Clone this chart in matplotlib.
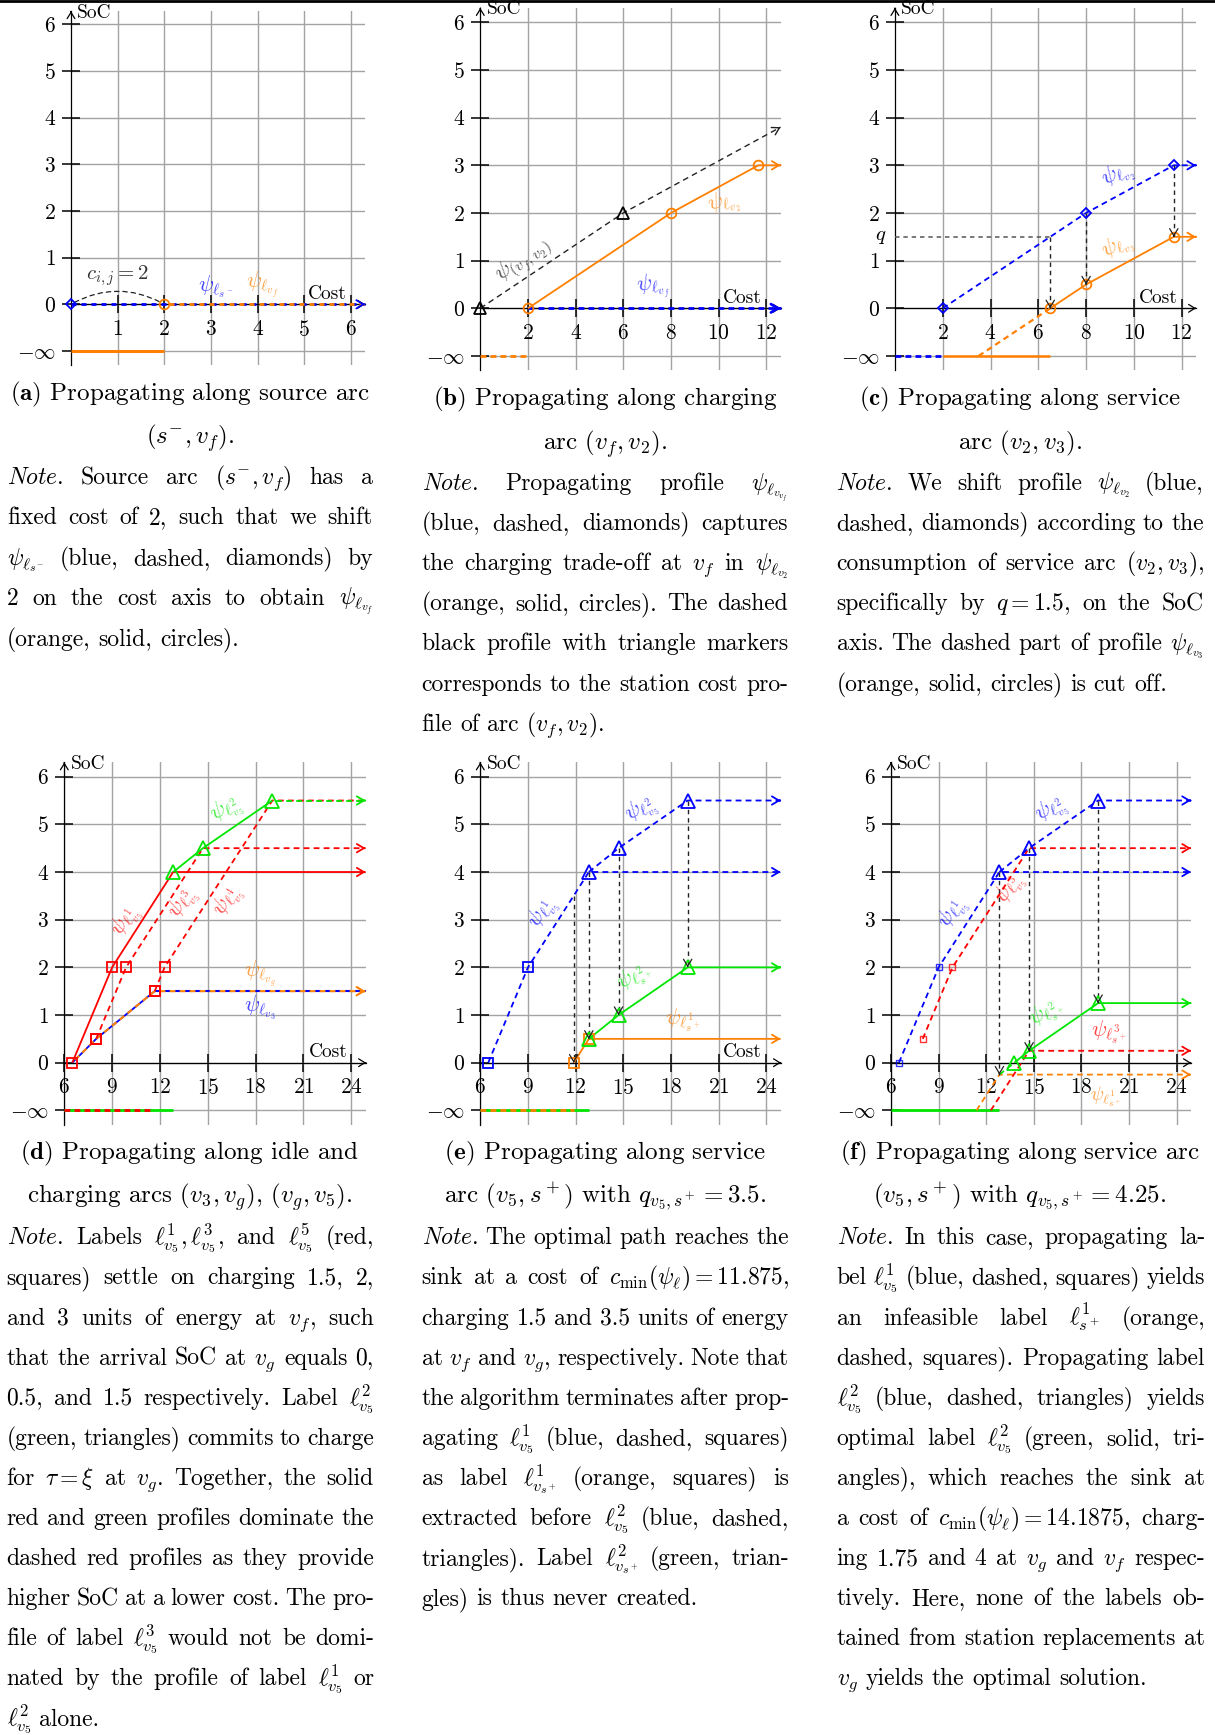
import matplotlib
matplotlib.use('Agg')
import matplotlib.pyplot as plt
from matplotlib.transforms import IdentityTransform
from matplotlib.lines import Line2D

plt.rcParams.update({
    'mathtext.fontset': 'cm',
    'font.family': 'cmr10',
    'axes.unicode_minus': False,
    'lines.scale_dashes': False,
    'axes.formatter.use_mathtext': True,
})

W, H = 1215, 1735
fig = plt.figure(figsize=(W / 100, H / 100), dpi=100)

BLUE, ORANGE, GREEN, RED, BLACK = '#0000ff', '#ff8000', '#00e600', '#ff0000', '#000000'

# ---------------- tick data ----------------
Y_TICKS = [-1, 0, 1, 2, 3, 4, 5, 6]
Y_TICKLABELS = [r'$-\infty$', '$0$', '$1$', '$2$', '$3$', '$4$', '$5$', '$6$']
A_XTICKS = [1, 2, 3, 4, 5, 6]
BC_XTICKS = [2, 4, 6, 8, 10, 12]
DEF_XTICKS = [6, 9, 12, 15, 18, 21, 24]

# ---------------- panel (a) ----------------
A_SRC_X, A_SRC_Y = [0, 6.3], [0, 0]
A_VF_X, A_VF_Y = [2, 6.3], [0, 0]
A_VF_NEG_X = [0, 2]
A_ARC_X = [0, 2]

# ---------------- panel (b) ----------------
B_STATION_X, B_STATION_Y = [0, 6, 12.6], [0, 2, 3.8]
B_VF_X, B_VF_Y = [2, 12.6], [0, 0]
B_V2_X, B_V2_Y = [2, 8, 11.67, 12.6], [0, 2, 3, 3]
B_NEG_X = [0, 2]

# ---------------- panel (c) ----------------
C_V2_X, C_V2_Y = [2, 8, 11.67, 12.6], [0, 2, 3, 3]
C_V2_NEG_X = [0, 2]
C_V3_X, C_V3_Y = [6.5, 8, 11.67, 12.6], [0, 0.5, 1.5, 1.5]
C_V3_CUT_X, C_V3_CUT_Y = [3.5, 6.5], [-1, 0]
C_V3_NEG_X = [2, 6.5]
C_Q = 1.5
C_DROP_X, C_DROP_TOP = [6.5, 8, 11.67], [1.5, 2, 3]

# ---------------- panel (d) ----------------
D_L1_X, D_L1_Y = [6.5, 9, 12.83, 24.9], [0, 2, 4, 4]
D_L3_X, D_L3_Y = [8, 9.875, 14.7, 24.9], [0.5, 2, 4.5, 4.5]
D_L5_X, D_L5_Y = [11.67, 12.29, 19.05, 24.9], [1.5, 2, 5.5, 5.5]
D_L2_X, D_L2_Y = [12.83, 14.7, 19.05, 24.9], [4, 4.5, 5.5, 5.5]
D_V3_X, D_V3_Y = [6.5, 8, 11.67, 24.9], [0, 0.5, 1.5, 1.5]
D_GREEN_NEG_X = [6, 12.83]
D_RED_NEG_X = [6, 11.5]

# ---------------- panel (e) ----------------
E_L1_X, E_L1_Y = [6.5, 9, 12.83, 24.9], [0, 2, 4, 4]
E_L2_X, E_L2_Y = [12.83, 14.7, 19.05, 24.9], [4, 4.5, 5.5, 5.5]
E_S1_X, E_S1_Y = [11.875, 12.83, 24.9], [0, 0.5, 0.5]
E_S2_X, E_S2_Y = [12.83, 14.7, 19.05, 24.9], [0.5, 1, 2, 2]
E_Q = 3.5
E_DROP_X, E_DROP_TOP = [11.875, 12.83, 14.7, 19.05], [3.5, 4, 4.5, 5.5]
E_GREEN_NEG_X = [6, 12.83]
E_ORANGE_NEG_X = [6, 11.875]

# ---------------- panel (f) ----------------
F_L1_X, F_L1_Y = [6.5, 9, 12.83, 24.9], [0, 2, 4, 4]
F_L2_X, F_L2_Y = [12.83, 14.7, 19.05, 24.9], [4, 4.5, 5.5, 5.5]
F_L3_X, F_L3_Y = [8, 9.875, 14.7, 24.9], [0.5, 2, 4.5, 4.5]
F_S1_X, F_S1_Y = [11.39, 12.83, 24.9], [-1, -0.25, -0.25]
F_S3_X, F_S3_Y = [12.29, 14.7, 24.9], [-1, 0.25, 0.25]
F_S2_X, F_S2_Y = [13.77, 14.7, 19.05, 24.9], [0, 0.25, 1.25, 1.25]
F_S2_CUT_X, F_S2_CUT_Y = [12.83, 13.77], [-0.25, 0]
F_Q = 4.25
F_DROP_X, F_DROP_TOP = [12.83, 14.7, 19.05], [4, 4.5, 5.5]
F_GREEN_NEG_X = [6, 12.83]

# ---------------- captions / notes ----------------
CAP_A = [r"$\mathbf{(a)}$ Propagating along source arc", r"$(s^{-},v_f)$."]
NOTE_A = [r"$\mathit{Note.}$ Source arc $(s^{-},v_f)$ has a",
          r"fixed cost of 2, such that we shift",
          r"$\psi_{\ell_{s^-}}$ (blue, dashed, diamonds) by",
          r"2 on the cost axis to obtain $\psi_{\ell_{v_f}}$",
          r"(orange, solid, circles)."]
CAP_B = [r"$\mathbf{(b)}$ Propagating along charging", r"arc $(v_f,v_2)$."]
NOTE_B = [r"$\mathit{Note.}$ Propagating profile $\psi_{\ell_{v_{v_f}}}$",
          r"(blue, dashed, diamonds) captures",
          r"the charging trade-off at $v_f$ in $\psi_{\ell_{v_2}}$",
          r"(orange, solid, circles). The dashed",
          r"black profile with triangle markers",
          r"corresponds to the station cost pro-",
          r"file of arc $(v_f,v_2)$."]
CAP_C = [r"$\mathbf{(c)}$ Propagating along service", r"arc $(v_2,v_3)$."]
NOTE_C = [r"$\mathit{Note.}$ We shift profile $\psi_{\ell_{v_2}}$ (blue,",
          r"dashed, diamonds) according to the",
          r"consumption of service arc $(v_2,v_3)$,",
          r"specifically by $q=1.5$, on the SoC",
          r"axis. The dashed part of profile $\psi_{\ell_{v_3}}$",
          r"(orange, solid, circles) is cut off."]
CAP_D = [r"$\mathbf{(d)}$ Propagating along idle and", r"charging arcs $(v_3,v_g)$, $(v_g,v_5)$."]
NOTE_D = [r"$\mathit{Note.}$ Labels $\ell^1_{v_5},\ell^3_{v_5}$, and $\ell^5_{v_5}$ (red,",
          r"squares) settle on charging 1.5, 2,",
          r"and 3 units of energy at $v_f$, such",
          r"that the arrival SoC at $v_g$ equals 0,",
          r"0.5, and 1.5 respectively. Label $\ell^2_{v_5}$",
          r"(green, triangles) commits to charge",
          r"for $\tau=\xi$ at $v_g$. Together, the solid",
          r"red and green profiles dominate the",
          r"dashed red profiles as they provide",
          r"higher SoC at a lower cost. The pro-",
          r"file of label $\ell^3_{v_5}$ would not be domi-",
          r"nated by the profile of label $\ell^1_{v_5}$ or",
          r"$\ell^2_{v_5}$ alone."]
CAP_E = [r"$\mathbf{(e)}$ Propagating along service", r"arc $(v_5,s^+)$ with $q_{v_5,s^+}=3.5$."]
NOTE_E = [r"$\mathit{Note.}$ The optimal path reaches the",
          r"sink at a cost of $c_{\min}(\psi_\ell)=11.875$,",
          r"charging 1.5 and 3.5 units of energy",
          r"at $v_f$ and $v_g$, respectively. Note that",
          r"the algorithm terminates after prop-",
          r"agating $\ell^1_{v_5}$ (blue, dashed, squares)",
          r"as label $\ell^1_{v_{s^+}}$ (orange, squares) is",
          r"extracted before $\ell^2_{v_5}$ (blue, dashed,",
          r"triangles). Label $\ell^2_{v_{s^+}}$ (green, trian-",
          r"gles) is thus never created."]
CAP_F = [r"$\mathbf{(f)}$ Propagating along service arc", r"$(v_5,s^+)$ with $q_{v_5,s^+}=4.25$."]
NOTE_F = [r"$\mathit{Note.}$ In this case, propagating la-",
          r"bel $\ell^1_{v_5}$ (blue, dashed, squares) yields",
          r"an infeasible label $\ell^1_{s^+}$ (orange,",
          r"dashed, squares). Propagating label",
          r"$\ell^2_{v_5}$ (blue, dashed, triangles) yields",
          r"optimal label $\ell^2_{v_5}$ (green, solid, tri-",
          r"angles), which reaches the sink at",
          r"a cost of $c_{\min}(\psi_\ell)=14.1875$, charg-",
          r"ing 1.75 and 4 at $v_g$ and $v_f$ respec-",
          r"tively. Here, none of the labels ob-",
          r"tained from station replacements at",
          r"$v_g$ yields the optimal solution."]

# ---------------- helpers ----------------
DASH = (4.2, 3.0)
BDASH = (3.2, 2.8)
LW = 1.3


def make_axes(x0px, xunit, y0px, yunit, xlim, xticks, ylim=(-1.3, 6.3), cost=True):
    width = (xlim[1] - xlim[0]) * xunit
    top = y0px - ylim[1] * yunit
    height = (ylim[1] - ylim[0]) * yunit
    ax = fig.add_axes([x0px / W, 1 - (top + height) / H, width / W, height / H])
    ax.set_xlim(xlim)
    ax.set_ylim(ylim)
    ax.patch.set_visible(False)
    ax.spines['top'].set_visible(False)
    ax.spines['right'].set_visible(False)
    ax.spines['bottom'].set_position(('data', 0))
    for s in ('left', 'bottom'):
        ax.spines[s].set_linewidth(0.9)
    ax.set_yticks(Y_TICKS, Y_TICKLABELS)
    ax.set_xticks(xticks, ['$%d$' % v for v in xticks])
    ax.tick_params(direction='inout', length=13, width=1.1, pad=4.5, labelsize=15.5)
    ax.grid(True, color='#a3a3a3', lw=1.0)
    ax.set_axisbelow(True)
    ap = dict(arrowstyle='->,head_length=0.45,head_width=0.28', lw=0.9, color='k',
              shrinkA=0, shrinkB=0)
    ex = (xlim[1] - xlim[0]) * 0.002
    ax.annotate('', xy=(xlim[1], 0), xytext=(xlim[1] - ex, 0), arrowprops=ap, annotation_clip=False)
    ax.annotate('', xy=(xlim[0], ylim[1]), xytext=(xlim[0], ylim[1] - 0.01), arrowprops=ap,
                annotation_clip=False)
    ax.annotate('SoC', xy=(xlim[0], ylim[1]), xytext=(4.5, -1), textcoords='offset points',
                ha='left', va='center', fontsize=14, annotation_clip=False)
    if cost:
        ax.annotate('Cost', xy=(xlim[1], 0), xytext=(-13.5, 3.8), textcoords='offset points',
                    ha='right', va='baseline', fontsize=14, annotation_clip=False)
    return ax


def head(ax, x0, y0, x1, y1, color, lw=LW):
    f = 0.01
    ax.annotate('', xy=(x1, y1), xytext=(x1 - f * (x1 - x0), y1 - f * (y1 - y0)),
                arrowprops=dict(arrowstyle='->,head_length=0.5,head_width=0.3', lw=lw,
                                color=color, shrinkA=0, shrinkB=0),
                annotation_clip=False, zorder=6)


def line(ax, xs, ys, color, dashed=False, lw=LW, z=3, off=0.0, dash=DASH):
    kw = dict(color=color, lw=lw, zorder=z, solid_capstyle='butt', dash_capstyle='butt')
    if dashed:
        kw['linestyle'] = (off, dash)
    ax.plot(xs, ys, clip_on=False, **kw)


def marks(ax, xs, ys, color, m, ms, z=5, mew=1.3, alpha=1.0):
    ax.plot(xs, ys, ls='none', marker=m, ms=ms, mfc='none', mec=color, mew=mew,
            zorder=z, clip_on=False, alpha=alpha)


def profile(ax, xs, ys, color, dashed=False, nmark=0, marker=None, ms=7, arrow=True,
            lw=LW, off=0.0, z=3):
    line(ax, xs, ys, color, dashed, lw, z, off)
    if nmark:
        marks(ax, xs[:nmark], ys[:nmark], color, marker, ms)
    if arrow:
        head(ax, xs[-2], ys[-2], xs[-1], ys[-1], color, lw)


def neg(ax, xs, color, dashed=False, lw=2.0, off=0.0):
    line(ax, xs, [-1] * len(xs), color, dashed, lw, 3, off)


def drops(ax, xs, tops, q):
    for x, t in zip(xs, tops):
        ax.plot([x, x], [t, t - q], color='#222222', lw=1.0, linestyle=(0, BDASH), zorder=4)
        head(ax, x, t, x, t - q, '#222222', lw=0.9)


def lab(ax, x, y, s, color, rot=0, fs=16, alpha=0.72):
    ax.text(x, y, s, color=color, rotation=rot, fontsize=fs, ha='center', va='center',
            alpha=alpha, rotation_mode='anchor', zorder=7)


# ---------------- panel (a) ----------------
ax = make_axes(71, 46.67, 304.3, 46.67, (0, 6.3), A_XTICKS, ylim=(-1.3, 6.28))
line(ax, A_SRC_X, A_SRC_Y, BLUE, True, 2.0, 3, 0, (3.6, 3.6))
line(ax, A_VF_X, A_VF_Y, ORANGE, True, 2.0, 4, 3.6, (3.6, 3.6))
head(ax, A_SRC_X[0], 0, A_SRC_X[-1], 0, BLUE, 1.3)
neg(ax, A_VF_NEG_X, ORANGE, lw=2.2)
marks(ax, [A_SRC_X[0]], [A_SRC_Y[0]], BLUE, 'D', 5.5)
marks(ax, [A_VF_X[0]], [A_VF_Y[0]], ORANGE, 'o', 7)
ax.annotate('', xy=(A_ARC_X[1], 0), xytext=(A_ARC_X[0], 0),
            arrowprops=dict(arrowstyle='-', linestyle=(0, BDASH), lw=0.9, color='#222222',
                            connectionstyle='arc3,rad=-0.28', shrinkA=3, shrinkB=3))
lab(ax, 1.0, 0.62, r'$c_{i,j}=2$', '#333333', fs=15, alpha=1)
lab(ax, 3.1, 0.38, r'$\psi_{\ell_{s^-}}$', BLUE)
lab(ax, 4.1, 0.42, r'$\psi_{\ell_{v_f}}$', ORANGE)

# ---------------- panel (b) ----------------
ax = make_axes(480.3, 23.83, 308.3, 47.67, (0, 12.6), BC_XTICKS)
profile(ax, B_STATION_X, B_STATION_Y, '#222222', dashed=True, lw=1.0)
marks(ax, B_STATION_X[:2], B_STATION_Y[:2], BLACK, '^', 9)
profile(ax, B_VF_X, B_VF_Y, BLUE, dashed=True, lw=2.0)
profile(ax, B_V2_X, B_V2_Y, ORANGE, nmark=3, marker='o', ms=7)
neg(ax, B_NEG_X, ORANGE, dashed=True, lw=2.0)
lab(ax, 1.8, 1.0, r'$\psi_{(v_f,v_2)}$', '#333333', rot=34, alpha=0.85)
lab(ax, 10.2, 2.2, r'$\psi_{\ell_{v_2}}$', ORANGE, rot=15)
lab(ax, 7.25, 0.45, r'$\psi_{\ell_{v_f}}$', BLUE, rot=8)

# ---------------- panel (c) ----------------
ax = make_axes(894.9, 23.9, 308.3, 47.67, (0, 12.6), BC_XTICKS)
profile(ax, C_V2_X, C_V2_Y, BLUE, dashed=True, nmark=3, marker='D', ms=5.5)
neg(ax, C_V2_NEG_X, BLUE, dashed=True, lw=2.0)
profile(ax, C_V3_X, C_V3_Y, ORANGE, nmark=3, marker='o', ms=7)
line(ax, C_V3_CUT_X, C_V3_CUT_Y, ORANGE, True, 1.6)
neg(ax, C_V3_NEG_X, ORANGE, lw=1.8)
ax.plot([0, C_DROP_X[0]], [C_Q, C_Q], color='#555555', lw=1.1, linestyle=(0, BDASH), zorder=4)
drops(ax, C_DROP_X, C_DROP_TOP, C_Q)
ax.annotate('$q$', xy=(0, C_Q), xytext=(-6, 0), textcoords='offset points', ha='right',
            va='center', fontsize=15)
lab(ax, 9.33, 2.8, r'$\psi_{\ell_{v_2}}$', BLUE, rot=27)
lab(ax, 9.33, 1.28, r'$\psi_{\ell_{v_3}}$', ORANGE, rot=27)

# ---------------- panel (d) ----------------
ax = make_axes(64.3, 15.94, 1062.7, 47.67, (6, 24.93), DEF_XTICKS)
neg(ax, D_GREEN_NEG_X, GREEN, lw=2.0)
neg(ax, D_RED_NEG_X, RED, dashed=True, lw=2.0)
line(ax, D_V3_X[:3], D_V3_Y[:3], BLUE, False, 1.3)
line(ax, D_V3_X[2:], D_V3_Y[2:], BLUE, True, 1.5)
profile(ax, D_V3_X, D_V3_Y, ORANGE, dashed=True, lw=1.5, off=4.2)
profile(ax, D_L1_X, D_L1_Y, RED)
profile(ax, D_L3_X, D_L3_Y, RED, dashed=True)
line(ax, D_L5_X, D_L5_Y, RED, True)
line(ax, D_L2_X[:3], D_L2_Y[:3], GREEN)
line(ax, D_L2_X[2:], D_L2_Y[2:], GREEN, True, off=4.2)
head(ax, D_L2_X[-2], D_L2_Y[-2], D_L2_X[-1], D_L2_Y[-1], GREEN)
marks(ax, D_L1_X[:2] + D_L3_X[:2] + D_L5_X[:2] + D_V3_X[1:3],
      D_L1_Y[:2] + D_L3_Y[:2] + D_L5_Y[:2] + D_V3_Y[1:3], RED, 's', 7)
marks(ax, D_L2_X[:3], D_L2_Y[:3], GREEN, '^', 9.5)
lab(ax, 9.91, 2.96, r'$\psi_{\ell^1_{v_5}}$', RED, rot=57)
lab(ax, 13.47, 3.34, r'$\psi_{\ell^3_{v_5}}$', RED, rot=57)
lab(ax, 16.29, 3.38, r'$\psi_{\ell^4_{v_5}}$', RED, rot=57)
lab(ax, 16.18, 5.3, r'$\psi_{\ell^2_{v_5}}$', GREEN, rot=30)
lab(ax, 18.27, 1.86, r'$\psi_{\ell_{v_g}}$', ORANGE)
lab(ax, 18.27, 1.14, r'$\psi_{\ell_{v_3}}$', BLUE)

# ---------------- panel (e) ----------------
ax = make_axes(480.3, 15.89, 1062.7, 47.67, (6, 24.92), DEF_XTICKS)
neg(ax, E_GREEN_NEG_X, GREEN, lw=2.0)
neg(ax, E_ORANGE_NEG_X, ORANGE, dashed=True, lw=2.0)
profile(ax, E_L1_X, E_L1_Y, BLUE, dashed=True, nmark=2, marker='s', ms=7)
profile(ax, E_L2_X, E_L2_Y, BLUE, dashed=True, nmark=3, marker='^', ms=10)
profile(ax, E_S1_X, E_S1_Y, ORANGE, nmark=2, marker='s', ms=7)
profile(ax, E_S2_X, E_S2_Y, GREEN, nmark=3, marker='^', ms=10)
drops(ax, E_DROP_X, E_DROP_TOP, E_Q)
lab(ax, 9.96, 3.13, r'$\psi_{\ell^1_{v_5}}$', BLUE, rot=57)
lab(ax, 16.15, 5.3, r'$\psi_{\ell^2_{v_5}}$', BLUE, rot=30)
lab(ax, 15.73, 1.8, r'$\psi_{\ell^2_{s^+}}$', GREEN, rot=30)
lab(ax, 18.77, 0.9, r'$\psi_{\ell^1_{s^+}}$', ORANGE)

# ---------------- panel (f) ----------------
ax = make_axes(891, 15.87, 1062.7, 47.67, (6, 24.9), DEF_XTICKS, cost=False)
neg(ax, F_GREEN_NEG_X, GREEN, lw=2.0)
profile(ax, F_L1_X, F_L1_Y, BLUE, dashed=True)
marks(ax, F_L1_X[:2], F_L1_Y[:2], BLUE, 's', 5, mew=1.0, alpha=0.8)
profile(ax, F_L2_X, F_L2_Y, BLUE, dashed=True, nmark=3, marker='^', ms=10)
profile(ax, F_L3_X, F_L3_Y, RED, dashed=True)
marks(ax, F_L3_X[:2], F_L3_Y[:2], RED, 's', 5, mew=1.0, alpha=0.8)
profile(ax, F_S1_X, F_S1_Y, ORANGE, dashed=True)
profile(ax, F_S3_X, F_S3_Y, RED, dashed=True)
line(ax, F_S2_CUT_X, F_S2_CUT_Y, GREEN, True)
profile(ax, F_S2_X, F_S2_Y, GREEN, nmark=3, marker='^', ms=10)
drops(ax, F_DROP_X, F_DROP_TOP, F_Q)
lab(ax, 9.93, 3.13, r'$\psi_{\ell^1_{v_5}}$', BLUE, rot=57)
lab(ax, 16.1, 5.3, r'$\psi_{\ell^2_{v_5}}$', BLUE, rot=30)
lab(ax, 13.5, 3.62, r'$\psi_{\ell^3_{v_5}}$', RED, rot=57)
lab(ax, 15.8, 1.03, r'$\psi_{\ell^2_{s^+}}$', GREEN, rot=30)
lab(ax, 19.7, 0.65, r'$\psi_{\ell^3_{s^+}}$', RED)
lab(ax, 19.5, -0.72, r'$\psi_{\ell^1_{s^+}}$', ORANGE, fs=14)

# ---------------- text blocks ----------------
FS_NOTE = 17.0
FS_CAP = 18.0
PX = 100 / 72
IDT = IdentityTransform()
renderer = fig.canvas.get_renderer()


def caption(lines, cx, y0, dy):
    for i, s in enumerate(lines):
        fig.text(cx, H - (y0 + i * dy), s, fontsize=FS_CAP, ha='center', va='baseline',
                 transform=IDT)


def notes(lines, xl, xr, y0, dy):
    for i, s in enumerate(lines):
        last = (i == len(lines) - 1)
        toks = s.split(' ')
        objs, widths = [], []
        for tk in toks:
            t = fig.text(0, 0, tk, fontsize=FS_NOTE, ha='left', va='baseline', transform=IDT)
            objs.append(t)
            widths.append(t.get_window_extent(renderer).width)
        space = 0.333 * FS_NOTE * PX
        if last or len(toks) == 1:
            gap = space
        else:
            gap = max((xr - xl - sum(widths)) / (len(toks) - 1), space * 0.6)
        x = xl
        yb = H - (y0 + i * dy)
        for t, w in zip(objs, widths):
            t.set_position((x, yb))
            x += w + gap


COLS = [(7, 373), (421.5, 788), (836.5, 1204)]
caption(CAP_A, 190, 400, 44)
notes(NOTE_A, COLS[0][0], COLS[0][1], 484, 40.4)
caption(CAP_B, 605, 405.5, 44.2)
notes(NOTE_B, COLS[1][0], COLS[1][1], 489.6, 40.2)
caption(CAP_C, 1020, 405.5, 44.2)
notes(NOTE_C, COLS[2][0], COLS[2][1], 489.6, 40.2)

caption(CAP_D, 190, 1159, 44.2)
notes(NOTE_D, 6.6, 374, 1244.3, 40.1)
caption(CAP_E, 605, 1159, 44.2)
notes(NOTE_E, 421.6, 789, 1244.3, 40.1)
caption(CAP_F, 1020, 1159, 44.2)
notes(NOTE_F, 836.6, 1205, 1244.3, 40.1)

fig.add_artist(Line2D([0, W], [H - 1.2, H - 1.2], transform=IDT, color='k', lw=2.0))

fig.savefig('out.png', dpi=100)
